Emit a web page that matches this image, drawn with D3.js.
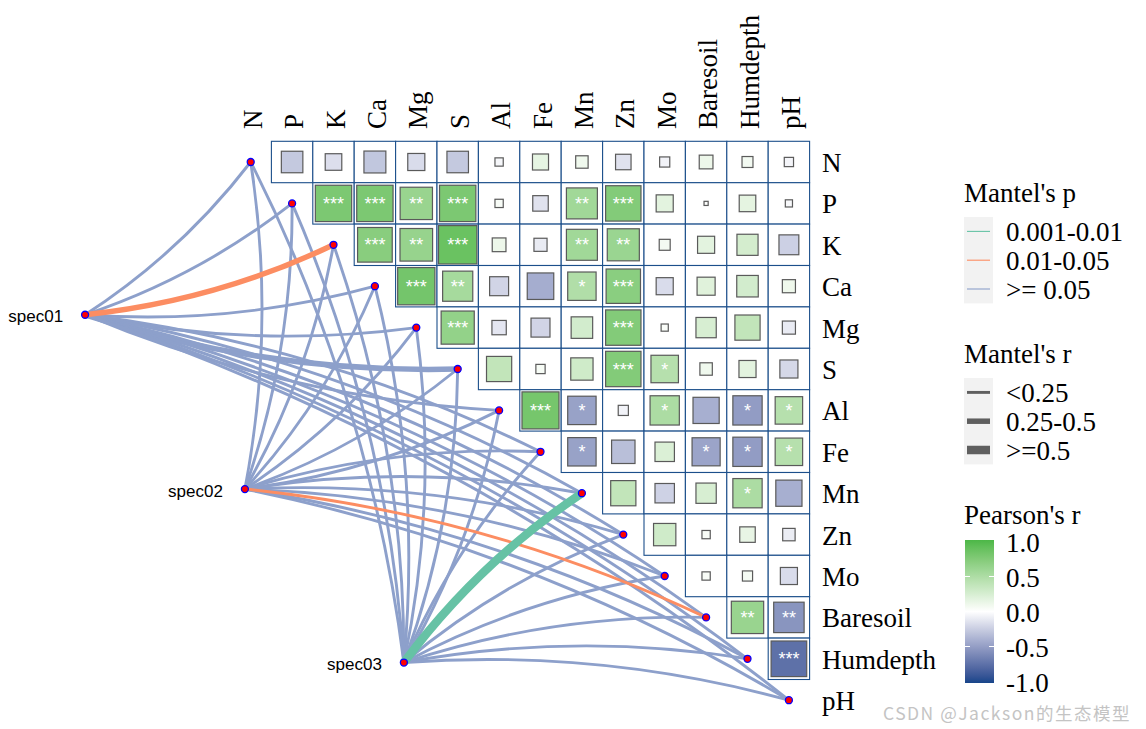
<!DOCTYPE html>
<html><head><meta charset="utf-8">
<script src="https://cdn.jsdelivr.net/npm/d3@7"></script>
<style>body{margin:0;background:#fff}</style>
</head><body><svg id="c" width="1146" height="729"></svg>
<script>
// ---------------- DATA ----------------
const vars = ["N","P","K","Ca","Mg","S","Al","Fe","Mn","Zn","Mo","Baresoil","Humdepth","pH"];
// Pearson r, upper triangle: row i holds columns i+1 .. 13
const pearsonR = [
  [-0.27,-0.16,-0.28,-0.17,-0.27,-0.04,0.15,0.09,-0.14,-0.06,0.11,0.07,-0.05],
  [0.77,0.77,0.61,0.77,0.04,-0.14,0.56,0.73,0.17,0.01,0.16,-0.03],
  [0.70,0.62,0.86,0.11,-0.10,0.56,0.60,0.07,0.17,0.26,-0.23],
  [0.81,0.53,-0.21,-0.41,0.47,0.69,-0.17,0.19,0.27,0.10],
  [0.64,-0.12,-0.21,0.27,0.73,0.03,0.24,0.37,-0.10],
  [0.37,0.05,0.29,0.73,0.44,0.09,0.17,-0.19],
  [0.80,-0.47,-0.06,0.50,-0.40,-0.50,0.44],
  [-0.47,-0.32,0.22,-0.46,-0.50,0.44],
  [0.37,-0.22,0.24,0.50,-0.40],
  [0.29,0.04,0.14,-0.09],
  [0.04,0.06,-0.17],
  [0.61,-0.54],
  [-0.74]
];
const pearsonSig = [
  ["","","","","","","","","","","","",""],
  ["***","***","**","***","","","**","***","","","",""],
  ["***","**","***","","","**","**","","","",""],
  ["***","**","","","*","***","","","",""],
  ["***","","","","***","","","",""],
  ["","","","***","*","","",""],
  ["***","*","","*","","*","*"],
  ["*","","","*","*","*"],
  ["","","","*",""],
  ["","","",""],
  ["","",""],
  ["**","**"],
  ["***"]
];
const specs = ["spec01","spec02","spec03"];
// spec node positions in grid units (same units as the variable grid)
const specGridX = [-4.00, -0.14, 3.70];
const specGridY = [3.69, 7.90, 12.09];
// Mantel test classes, per spec, per env variable (N..pH)
const mantelP = [
  [">= 0.05",">= 0.05","0.01-0.05",">= 0.05",">= 0.05",">= 0.05",">= 0.05",">= 0.05",">= 0.05",">= 0.05",">= 0.05",">= 0.05",">= 0.05",">= 0.05"],
  [">= 0.05",">= 0.05",">= 0.05",">= 0.05",">= 0.05",">= 0.05",">= 0.05",">= 0.05",">= 0.05",">= 0.05",">= 0.05","0.01-0.05",">= 0.05",">= 0.05"],
  [">= 0.05",">= 0.05",">= 0.05",">= 0.05",">= 0.05",">= 0.05",">= 0.05",">= 0.05","0.001-0.01",">= 0.05",">= 0.05",">= 0.05",">= 0.05",">= 0.05"]
];
const mantelR = [
  ["<0.25","<0.25","0.25-0.5","<0.25","<0.25","0.25-0.5","<0.25","<0.25","<0.25","<0.25","<0.25","<0.25","<0.25","<0.25"],
  ["<0.25","<0.25","<0.25","<0.25","<0.25","<0.25","<0.25","<0.25","<0.25","<0.25","<0.25","<0.25","<0.25","<0.25"],
  ["<0.25","<0.25","<0.25","<0.25","<0.25","<0.25","<0.25","<0.25",">=0.5","<0.25","<0.25","<0.25","<0.25","<0.25"]
];
const pLevels = ["0.001-0.01","0.01-0.05",">= 0.05"];
const rLevels = ["<0.25","0.25-0.5",">=0.5"];
const colorTicks = [1.0,0.5,0.0,-0.5,-1.0];

// ---------------- STYLE / LAYOUT ----------------
const step = 41.4;
const gridColor = "#1c4f8b";
const serif = "'Liberation Serif','Times New Roman',serif";
const sans = "'Liberation Sans',Arial,sans-serif";
const svg = d3.select("#c");

const x = d3.scaleLinear().domain([0, vars.length-1]).range([250.7, 250.7 + step*(vars.length-1)]);
const y = d3.scaleLinear().domain([0, vars.length-1]).range([162, 162 + step*(vars.length-1)]);
const fill = d3.scaleLinear().domain([-1,0,1]).range(["#17458a","#ffffff","#4cb747"]).interpolate(d3.interpolateLab);
const side = d3.scaleSqrt().domain([0,1]).range([0, step]);
const pColor = d3.scaleOrdinal().domain(pLevels).range(["#66c2a5","#fc8d62","#8da0cb"]);
const rWidth = d3.scaleOrdinal().domain(rLevels).range([2.9,5.5,8.5]);

// cells
const cells = [];
pearsonR.forEach((row,i)=>row.forEach((r,k)=>{
  const j = i+1+k;
  cells.push({i,j,r,sig:pearsonSig[i][k]});
}));

const gCells = svg.append("g");
gCells.selectAll("rect.cell").data(cells).join("rect")
  .attr("x", d=>x(d.j)-step/2).attr("y", d=>y(d.i)-step/2)
  .attr("width", step).attr("height", step)
  .attr("fill","#fff").attr("stroke", gridColor).attr("stroke-width",1.1);
gCells.selectAll("rect.sq").data(cells).join("rect")
  .attr("x", d=>x(d.j)-side(Math.abs(d.r))/2).attr("y", d=>y(d.i)-side(Math.abs(d.r))/2)
  .attr("width", d=>side(Math.abs(d.r))).attr("height", d=>side(Math.abs(d.r)))
  .attr("fill", d=>fill(d.r)).attr("stroke","#5a5a5a").attr("stroke-width",1.2);
gCells.selectAll("text.sig").data(cells.filter(d=>d.sig)).join("text")
  .attr("x", d=>x(d.j)).attr("y", d=>y(d.i)+6.5)
  .attr("text-anchor","middle").attr("font-family",sans).attr("font-size",18)
  .attr("fill","#fff").text(d=>d.sig);

// labels
svg.append("g").selectAll("text").data(vars).join("text")
  .attr("transform",(d,i)=>`translate(${x(i)+2},129) rotate(-90)`)
  .attr("dominant-baseline","central").attr("font-family",serif).attr("font-size",27)
  .attr("fill","#000").text(d=>d);
svg.append("g").selectAll("text").data(vars).join("text")
  .attr("x", 822).attr("y",(d,i)=>y(i)+1)
  .attr("dominant-baseline","central").attr("font-family",serif).attr("font-size",27)
  .attr("fill","#000").text(d=>d);

// links
const links = [];
specs.forEach((s,si)=>vars.forEach((v,vi)=>{
  links.push({si,vi,p:mantelP[si][vi],r:mantelR[si][vi]});
}));
const order = {">= 0.05":0,"0.01-0.05":1,"0.001-0.01":2};
links.sort((a,b)=>order[a.p]-order[b.p]);
const midY = (y.range()[0] + y.range()[1]) / 2;
function curvePath(d){
  const sx=x(specGridX[d.si]), sy=y(specGridY[d.si]);
  const nx=x(d.vi), ny=y(d.vi);
  const dx=nx-sx, dy=ny-sy, L=Math.hypot(dx,dy);
  let ux, uy;
  if (ny < midY) { ux=-dy/L; uy=dx/L; } else { ux=dy/L; uy=-dx/L; }
  const h = 2*0.043*L;
  const cx=(sx+nx)/2+ux*h, cy=(sy+ny)/2+uy*h;
  return `M${sx},${sy}Q${cx},${cy} ${nx},${ny}`;
}
svg.append("g").selectAll("path").data(links).join("path")
  .attr("d", curvePath).attr("fill","none")
  .attr("stroke", d=>pColor(d.p)).attr("stroke-width", d=>rWidth(d.r));

// nodes
svg.append("g").selectAll("circle").data(vars).join("circle")
  .attr("cx",(d,i)=>x(i)).attr("cy",(d,i)=>y(i)).attr("r",3.5)
  .attr("fill","#ff0000").attr("stroke","#0000ff").attr("stroke-width",1.3);
const gSpec = svg.append("g");
gSpec.selectAll("circle").data(specs).join("circle")
  .attr("cx",(d,i)=>x(specGridX[i])).attr("cy",(d,i)=>y(specGridY[i])).attr("r",3.5)
  .attr("fill","#ff0000").attr("stroke","#0000ff").attr("stroke-width",1.3);
gSpec.selectAll("text").data(specs).join("text")
  .attr("x",(d,i)=>x(specGridX[i])-22).attr("y",(d,i)=>y(specGridY[i])+2)
  .attr("text-anchor","end").attr("dominant-baseline","central")
  .attr("font-family",sans).attr("font-size",17).attr("fill","#000").text(d=>d);

// ---------------- LEGENDS ----------------
const lg = svg.append("g").attr("font-family",serif).attr("font-size",27).attr("fill","#000");
const keyH = 28.8;
// Mantel's p
lg.append("text").attr("x",964).attr("y",202).text("Mantel's p");
const pTop = 217;
lg.append("rect").attr("x",964).attr("y",pTop).attr("width",29).attr("height",keyH*3).attr("fill","#f2f2f2");
pLevels.forEach((lv,i)=>{
  const cy = pTop + keyH*(i+0.5);
  lg.append("line").attr("x1",967).attr("x2",990).attr("y1",cy).attr("y2",cy)
    .attr("stroke",pColor(lv)).attr("stroke-width",1.1);
  lg.append("text").attr("x",1006).attr("y",cy+1).attr("dominant-baseline","central").text(lv);
});
// Mantel's r
lg.append("text").attr("x",964).attr("y",363).text("Mantel's r");
const rTop = 378;
lg.append("rect").attr("x",964).attr("y",rTop).attr("width",29).attr("height",keyH*3).attr("fill","#f2f2f2");
rLevels.forEach((lv,i)=>{
  const cy = rTop + keyH*(i+0.5);
  lg.append("line").attr("x1",967).attr("x2",990).attr("y1",cy).attr("y2",cy)
    .attr("stroke","#5f5f5f").attr("stroke-width",rWidth(lv));
  lg.append("text").attr("x",1006).attr("y",cy+1).attr("dominant-baseline","central").text(lv);
});
// Pearson's r colourbar
lg.append("text").attr("x",964).attr("y",524).text("Pearson's r");
const cbY = d3.scaleLinear().domain([1,-1]).range([541.5,681.5]);
const defs = svg.append("defs");
const grad = defs.append("linearGradient").attr("id","cb").attr("x1",0).attr("x2",0).attr("y1",0).attr("y2",1);
d3.range(0,1.0001,0.05).forEach(t=>{
  grad.append("stop").attr("offset",t).attr("stop-color",fill(1-2*t));
});
lg.append("rect").attr("x",965).attr("y",cbY(1)-1.5).attr("width",29).attr("height",cbY(-1)-cbY(1)+3).attr("fill","url(#cb)");
colorTicks.forEach(t=>{
  if (Math.abs(t)<1) {
    lg.append("line").attr("x1",965).attr("x2",970).attr("y1",cbY(t)).attr("y2",cbY(t)).attr("stroke","#fff").attr("stroke-width",1);
    lg.append("line").attr("x1",989).attr("x2",994).attr("y1",cbY(t)).attr("y2",cbY(t)).attr("stroke","#fff").attr("stroke-width",1);
  }
  lg.append("text").attr("x",1006).attr("y",cbY(t)+1).attr("dominant-baseline","central").text(t.toFixed(1));
});

// watermark
svg.append("text").attr("x",1131).attr("y",720).attr("text-anchor","end")
  .attr("font-family","'Noto Sans CJK SC','Noto Sans',sans-serif").attr("font-size",17.5)
  .attr("letter-spacing",1.5)
  .attr("fill","#c4c4c4").text("CSDN @Jackson的生态模型");
</script></body></html>
